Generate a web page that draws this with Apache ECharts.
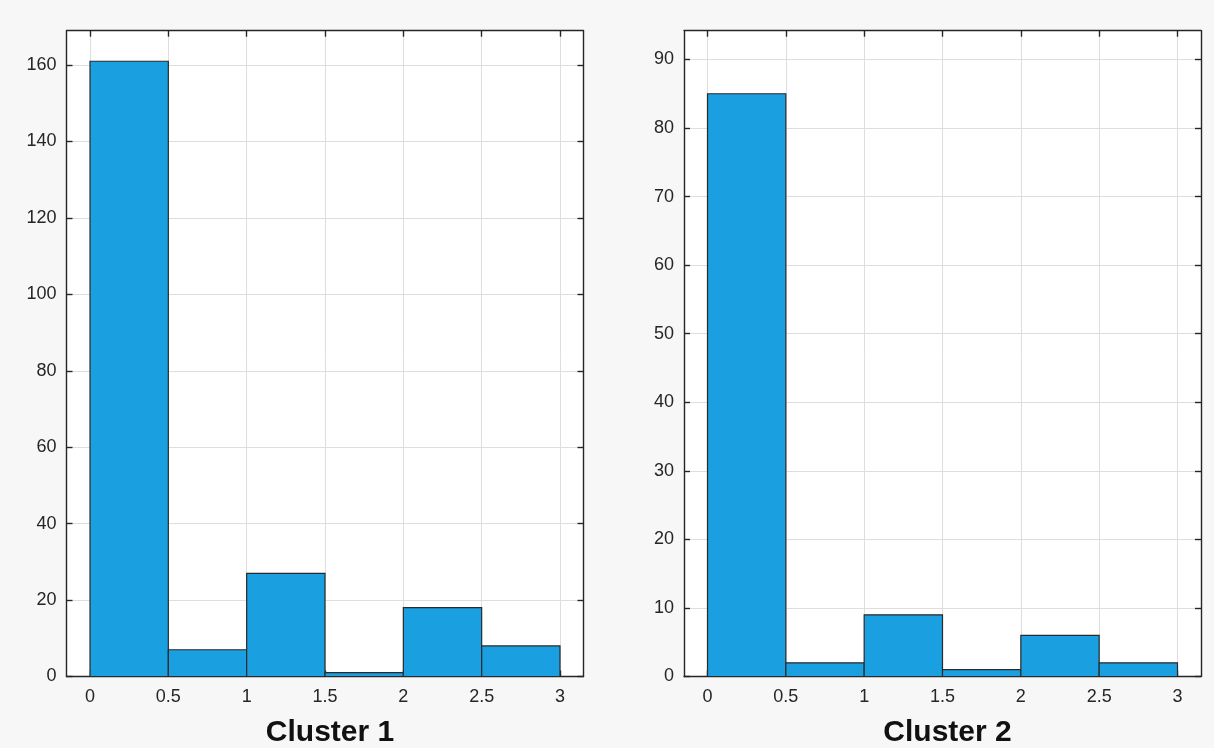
<!DOCTYPE html>
<html>
<head>
<meta charset="utf-8">
<script src="https://cdn.jsdelivr.net/npm/echarts@6/dist/echarts.min.js"></script>
<style>
html,body{margin:0;padding:0;background:#f7f7f7;}
#chart{width:1214px;height:748px;}
</style>
</head>
<body>
<div id="chart"></div>
<script>
const binEdges = [0, 0.5, 1, 1.5, 2, 2.5, 3];
const cluster1Counts = [161, 7, 27, 1, 18, 8];
const cluster2Counts = [85, 2, 9, 1, 6, 2];
const xTicks = [0, 0.5, 1, 1.5, 2, 2.5, 3];
const y1Ticks = [0, 20, 40, 60, 80, 100, 120, 140, 160];
const y2Ticks = [0, 10, 20, 30, 40, 50, 60, 70, 80, 90];
const titles = ['Cluster 1', 'Cluster 2'];

function binData(counts) {
  return counts.map((c, i) => [binEdges[i], binEdges[i + 1], c]);
}

const axisColor = '#262626';
const font = 'Liberation Sans, Arial, Helvetica, sans-serif';

function renderBin(params, api) {
  const x0 = api.value(0), x1 = api.value(1), v = api.value(2);
  const p0 = api.coord([x0, 0]);
  const p1 = api.coord([x1, v]);
  return {
    type: 'rect',
    shape: { x: p0[0], y: p1[1], width: p1[0] - p0[0], height: p0[1] - p1[1] },
    style: { fill: '#1a9fe0', stroke: '#2a2a2a', lineWidth: 1.2 }
  };
}

const grids = [
  { left: 66.5, top: 30.7, width: 517, height: 645.8 },
  { left: 684, top: 30.7, width: 517, height: 645.8 }
];
const yMax = [169, 94.2];
const yTicks = [y1Ticks, y2Ticks];
const counts = [cluster1Counts, cluster2Counts];

function lineStyle() { return { color: axisColor, width: 1.4 }; }

const xAxes = [], yAxes = [], series = [], titleArr = [];
grids.forEach((g, i) => {
  xAxes.push({
    type: 'value', gridIndex: i, min: -0.15, max: 3.15, position: 'bottom',
    axisLine: { show: true, onZero: false, lineStyle: lineStyle() },
    axisTick: { show: true, inside: true, length: 6, customValues: xTicks, lineStyle: lineStyle() },
    axisLabel: { customValues: xTicks, color: axisColor, fontSize: 18, fontFamily: font, margin: 12 },
    splitLine: { show: true, lineStyle: { color: '#dedede', width: 1 } }
  });
  xAxes.push({
    type: 'value', gridIndex: i, min: -0.15, max: 3.15, position: 'top',
    axisLine: { show: true, onZero: false, lineStyle: lineStyle() },
    axisTick: { show: true, inside: true, length: 6, customValues: xTicks, lineStyle: lineStyle() },
    axisLabel: { show: false },
    splitLine: { show: false }
  });
  yAxes.push({
    type: 'value', gridIndex: i, min: 0, max: yMax[i], position: 'left',
    axisLine: { show: true, onZero: false, lineStyle: lineStyle() },
    axisTick: { show: true, inside: true, length: 6, customValues: yTicks[i], lineStyle: lineStyle() },
    axisLabel: { customValues: yTicks[i], color: axisColor, fontSize: 18, fontFamily: font, margin: 10 },
    splitLine: { show: true, lineStyle: { color: '#dedede', width: 1 } }
  });
  yAxes.push({
    type: 'value', gridIndex: i, min: 0, max: yMax[i], position: 'right',
    axisLine: { show: true, onZero: false, lineStyle: lineStyle() },
    axisTick: { show: true, inside: true, length: 6, customValues: yTicks[i], lineStyle: lineStyle() },
    axisLabel: { show: false },
    splitLine: { show: false }
  });
  series.push({
    type: 'custom', xAxisIndex: i * 2, yAxisIndex: i * 2,
    renderItem: renderBin,
    encode: { x: [0, 1], y: 2 },
    data: binData(counts[i]),
    z: 3
  });
  titleArr.push({
    text: titles[i],
    left: g.left + g.width / 2, top: 713, textAlign: 'center',
    textStyle: { fontSize: 30, fontWeight: 'bold', color: '#111', fontFamily: font }
  });
});

const chart = echarts.init(document.getElementById('chart'), null, { renderer: 'canvas' });
chart.setOption({
  animation: false,
  backgroundColor: '#f7f7f7',
  title: titleArr,
  grid: grids.map(g => Object.assign({ show: true, backgroundColor: '#ffffff', borderWidth: 0 }, g)),
  xAxis: xAxes,
  yAxis: yAxes,
  series: series
});
</script>
</body>
</html>
